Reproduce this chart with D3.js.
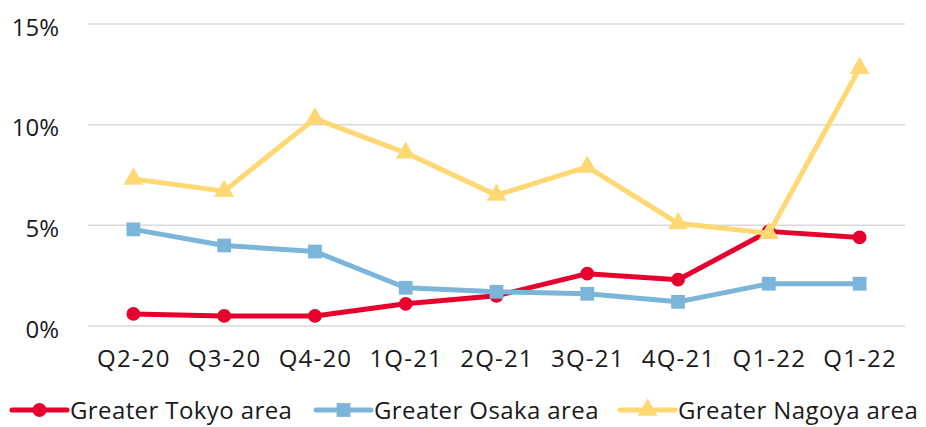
<!DOCTYPE html>
<html>
<head>
<meta charset="utf-8">
<script src="https://cdn.jsdelivr.net/npm/d3@7"></script>
<style>
  html, body { margin: 0; padding: 0; background: #fff; }
  svg { display: block; }
  text { font-family: "Open Sans", "Noto Sans", sans-serif; fill: #1a1a1a; }
</style>
</head>
<body>
<svg id="chart" width="926" height="427"></svg>
<script>
// Quarterly rates by metropolitan area (%)
const quarters = ["Q2-20", "Q3-20", "Q4-20", "1Q-21", "2Q-21", "3Q-21", "4Q-21", "Q1-22", "Q1-22"];
const tokyo  = [0.6, 0.5, 0.5, 1.1, 1.5, 2.6, 2.3, 4.7, 4.4];
const osaka  = [4.8, 4.0, 3.7, 1.9, 1.7, 1.6, 1.2, 2.1, 2.1];
const nagoya = [7.3, 6.7, 10.3, 8.6, 6.5, 7.9, 5.1, 4.6, 12.8];
const yTicks = [0, 5, 10, 15];
const seriesNames = ["Greater Tokyo area", "Greater Osaka area", "Greater Nagoya area"];

const series = [
  { name: seriesNames[0], values: tokyo,  color: "#E6002D", symbol: d3.symbolCircle,   size: 150 },
  { name: seriesNames[1], values: osaka,  color: "#7BB6DA", symbol: d3.symbolSquare,   size: 190 },
  { name: seriesNames[2], values: nagoya, color: "#FFD873", symbol: d3.symbolTriangle, size: 170 }
];

const svg = d3.select("#chart");
const plotLeft = 88, plotRight = 905, plotTop = 24, plotBottom = 326;
const fontSize = 24;

// Categories are positioned by index since the last two labels repeat
const x = d3.scalePoint().domain(d3.range(quarters.length)).range([plotLeft, plotRight]).padding(0.5);
const y = d3.scaleLinear().domain([0, 15]).range([plotBottom, plotTop]);

// Horizontal gridlines
svg.append("g")
  .selectAll("line")
  .data(yTicks)
  .join("line")
  .attr("x1", plotLeft).attr("x2", plotRight)
  .attr("y1", d => y(d)).attr("y2", d => y(d))
  .attr("stroke", "#d9d9d9").attr("stroke-width", 1.5);

// Y axis labels
const yAxis = svg.append("g")
  .attr("transform", `translate(${plotLeft - 29},0)`)
  .call(d3.axisLeft(y).tickValues(yTicks).tickFormat(d => d + "%").tickSize(0).tickPadding(0));
yAxis.select(".domain").remove();
yAxis.selectAll("text")
  .attr("font-size", fontSize).attr("fill", "#1a1a1a").attr("dy", "0.46em")
  .attr("font-family", "'Open Sans', sans-serif");

// X axis labels
const xAxis = svg.append("g")
  .attr("transform", `translate(0,${plotBottom})`)
  .call(d3.axisBottom(x).tickFormat(i => quarters[i]).tickSize(0).tickPadding(24));
xAxis.select(".domain").remove();
xAxis.selectAll("text")
  .attr("font-size", fontSize).attr("fill", "#1a1a1a").attr("letter-spacing", 1.2)
  .attr("font-family", "'Open Sans', sans-serif");

const line = d3.line().x((d, i) => x(i)).y(d => y(d));

const groups = svg.append("g")
  .selectAll("g")
  .data(series)
  .join("g");

groups.append("path")
  .attr("d", s => line(s.values))
  .attr("fill", "none")
  .attr("stroke", s => s.color)
  .attr("stroke-width", 5)
  .attr("stroke-linejoin", "round");

groups.each(function (s) {
  d3.select(this).selectAll("path.mark")
    .data(s.values)
    .join("path")
    .attr("class", "mark")
    .attr("transform", (d, i) => `translate(${x(i)},${y(d)})`)
    .attr("d", d3.symbol().type(s.symbol).size(s.size))
    .attr("fill", s.color);
});

// Legend
const legendX = [12, 316, 620];
const legend = svg.append("g").attr("transform", "translate(0,410)");
const items = legend.selectAll("g")
  .data(series)
  .join("g")
  .attr("transform", (d, i) => `translate(${legendX[i]},0)`);
items.append("line")
  .attr("x1", 0).attr("x2", 55).attr("y1", 0).attr("y2", 0)
  .attr("stroke", d => d.color).attr("stroke-width", 5).attr("stroke-linecap", "round");
items.append("path")
  .attr("transform", "translate(27.5,0)")
  .attr("d", d => d3.symbol().type(d.symbol).size(d.size)())
  .attr("fill", d => d.color);
items.append("text")
  .attr("x", 58).attr("y", 9)
  .attr("font-size", fontSize)
  .attr("letter-spacing", 0.4)
  .text(d => d.name);
</script>
</body>
</html>
